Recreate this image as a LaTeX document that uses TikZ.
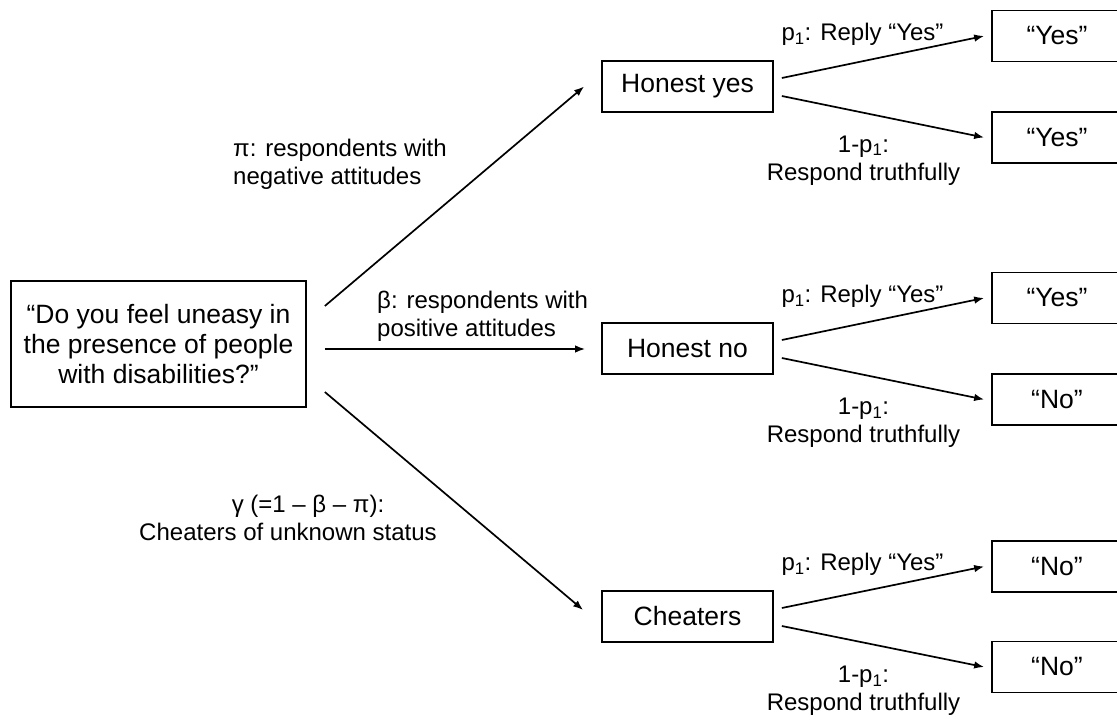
\documentclass[tikz,border=0pt]{standalone}
\usepackage{fontspec}
\setmainfont{Liberation Sans}
\usetikzlibrary{arrows.meta}
\begin{document}
\begin{tikzpicture}[x=1pt,y=-1pt,
  box/.style={draw, line width=1.7pt, inner sep=0pt, align=center,
              font=\fontsize{26.5}{30}\selectfont},
  mid/.style={box, minimum width=171pt, minimum height=51pt},
  leaf/.style={box, minimum width=130pt, minimum height=51pt},
  lbl/.style={inner sep=0pt, font=\fontsize{24}{28}\selectfont},
  arr/.style={line width=1.7pt, -{Latex[length=10pt,width=7.5pt]}}]
\path[use as bounding box, clip] (0,0) rectangle (1117,720);

% question and the three groups of respondents
\node[box, minimum width=295pt, minimum height=126pt] (q) at (158.5,344)
  {“Do you feel uneasy in\\the presence of people\\with disabilities?”};
\node[mid] (hy) at (687.5,86.5)  {Honest yes};
\node[mid] (hn) at (687.5,348.5) {Honest no};
\node[mid] (ch) at (687.5,616.5) {Cheaters};

% observed answers
\node[leaf] (a1) at (1057,36)    {“Yes”};
\node[leaf] (a2) at (1057,137.5) {“Yes”};
\node[leaf] (a3) at (1057,298)   {“Yes”};
\node[leaf] (a4) at (1057,399.5) {“No”};
\node[leaf] (a5) at (1057,566.5) {“No”};
\node[leaf] (a6) at (1057,667)   {“No”};

% branches from the question
\draw[arr] ([xshift=18pt,yshift=38pt]q.east) -- ([xshift=-17pt]hy.west);
\draw[arr] ([xshift=18pt,yshift=-5pt]q.east) -- ([xshift=-16pt,yshift=-0.5pt]hn.west);
\draw[arr] ([xshift=18pt,yshift=-48pt]q.east) -- ([xshift=-18pt,yshift=6.5pt]ch.west);

\node[lbl, anchor=west, align=left] (lpi) at (233,164)
  {π: respondents with\\negative attitudes};
\node[lbl, anchor=west, align=left] (lbe) at (377,316.5)
  {β: respondents with\\positive attitudes};
\node[lbl, align=center] (lga) at (288,517.5)
  {\hspace*{40pt}γ (=1 – β – π):\\Cheaters of unknown status};

% randomised response branches
\foreach \g/\u/\d in {hy/a1/a2, hn/a3/a4, ch/a5/a6}{
  \draw[arr] ([xshift=8pt,yshift=8.5pt]\g.east) -- ([xshift=-7pt]\u.west);
  \draw[arr] ([xshift=8pt,yshift=-9.5pt]\g.east) -- ([xshift=-7pt]\d.west);
  \node[lbl] at ([xshift=175pt,yshift=52pt]\g.center) {p\textsubscript{1}: Reply “Yes”};
  \node[lbl, align=center] at ([xshift=176pt,yshift=-74pt]\g.center)
    {1-p\textsubscript{1}:\\Respond truthfully};
}
\end{tikzpicture}
\end{document}
